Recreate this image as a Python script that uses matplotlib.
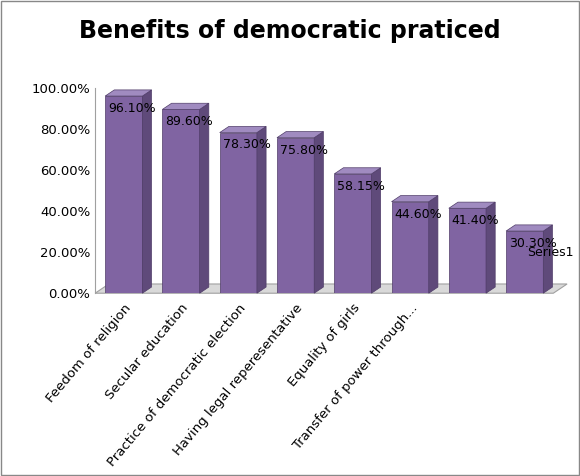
import matplotlib
matplotlib.use("Agg")
import matplotlib.pyplot as plt
from matplotlib.patches import Polygon, Rectangle

categories = ["Feedom of religion", "Secular education", "Practice of democratic election",
              "Having legal reperesentative", "Equality of girls", "Transfer of power through...", "", ""]
values = [96.10, 89.60, 78.30, 75.80, 58.15, 44.60, 41.40, 30.30]
labels = ["96.10%", "89.60%", "78.30%", "75.80%", "58.15%", "44.60%", "41.40%", "30.30%"]
yticks = [0, 20, 40, 60, 80, 100]

fig = plt.figure(figsize=(5.8, 4.76), dpi=100)
fig.patches.append(Rectangle((0.002, 0.002), 0.996, 0.996, transform=fig.transFigure,
                             fill=False, ec="#888888", lw=1))
ax = fig.add_axes([0.164, 0.384, 0.79, 0.431])
n = len(values)
ax.set_xlim(-0.5, n - 0.5)
ax.set_ylim(0, 100)
w = 0.65
dx, dy = 0.16, 3.0
front = "#8064A2"; side = "#5F4A7A"; top = "#A08BC0"
ax.add_patch(Polygon([(-0.5, 0), (n - 0.5, 0), (n - 0.5 + dx * 1.5, dy * 1.5), (-0.5 + dx * 1.5, dy * 1.5)],
                     closed=True, fc="#D9D9D9", ec="#A0A0A0", lw=0.8, clip_on=False, zorder=1))
for i, v in enumerate(values):
    x0 = i - w / 2
    ax.bar(i, v, width=w, color=front, edgecolor="#4F3C68", lw=0.5, zorder=3)
    ax.add_patch(Polygon([(x0 + w, 0), (x0 + w + dx, dy), (x0 + w + dx, v + dy), (x0 + w, v)],
                         closed=True, fc=side, ec="#4F3C68", lw=0.5, zorder=3, clip_on=False))
    ax.add_patch(Polygon([(x0, v), (x0 + dx, v + dy), (x0 + w + dx, v + dy), (x0 + w, v)],
                         closed=True, fc=top, ec="#4F3C68", lw=0.5, zorder=3, clip_on=False))
    ax.text(x0 + 0.05, v - 6, labels[i], fontsize=9, va="center", ha="left", zorder=5)
ax.text(n - 1 + 0.05, 20, "Series1", fontsize=9, va="center", ha="left", zorder=5)
ax.set_yticks(yticks)
ax.set_yticklabels([f"{t:.2f}%" for t in yticks], fontsize=9.5)
ax.set_xticks(range(n))
ax.set_xticklabels(categories, rotation=50, ha="right", rotation_mode="anchor", fontsize=9.5)
ax.tick_params(axis="x", length=0, pad=6)
ax.tick_params(axis="y", length=0)
for s in ["top", "right", "bottom"]:
    ax.spines[s].set_visible(False)
ax.spines["left"].set_color("#A0A0A0")
fig.text(0.5, 0.935, "Benefits of democratic praticed", ha="center", va="center",
         fontsize=17, fontweight="bold")
fig.savefig("out.png", dpi=100)
